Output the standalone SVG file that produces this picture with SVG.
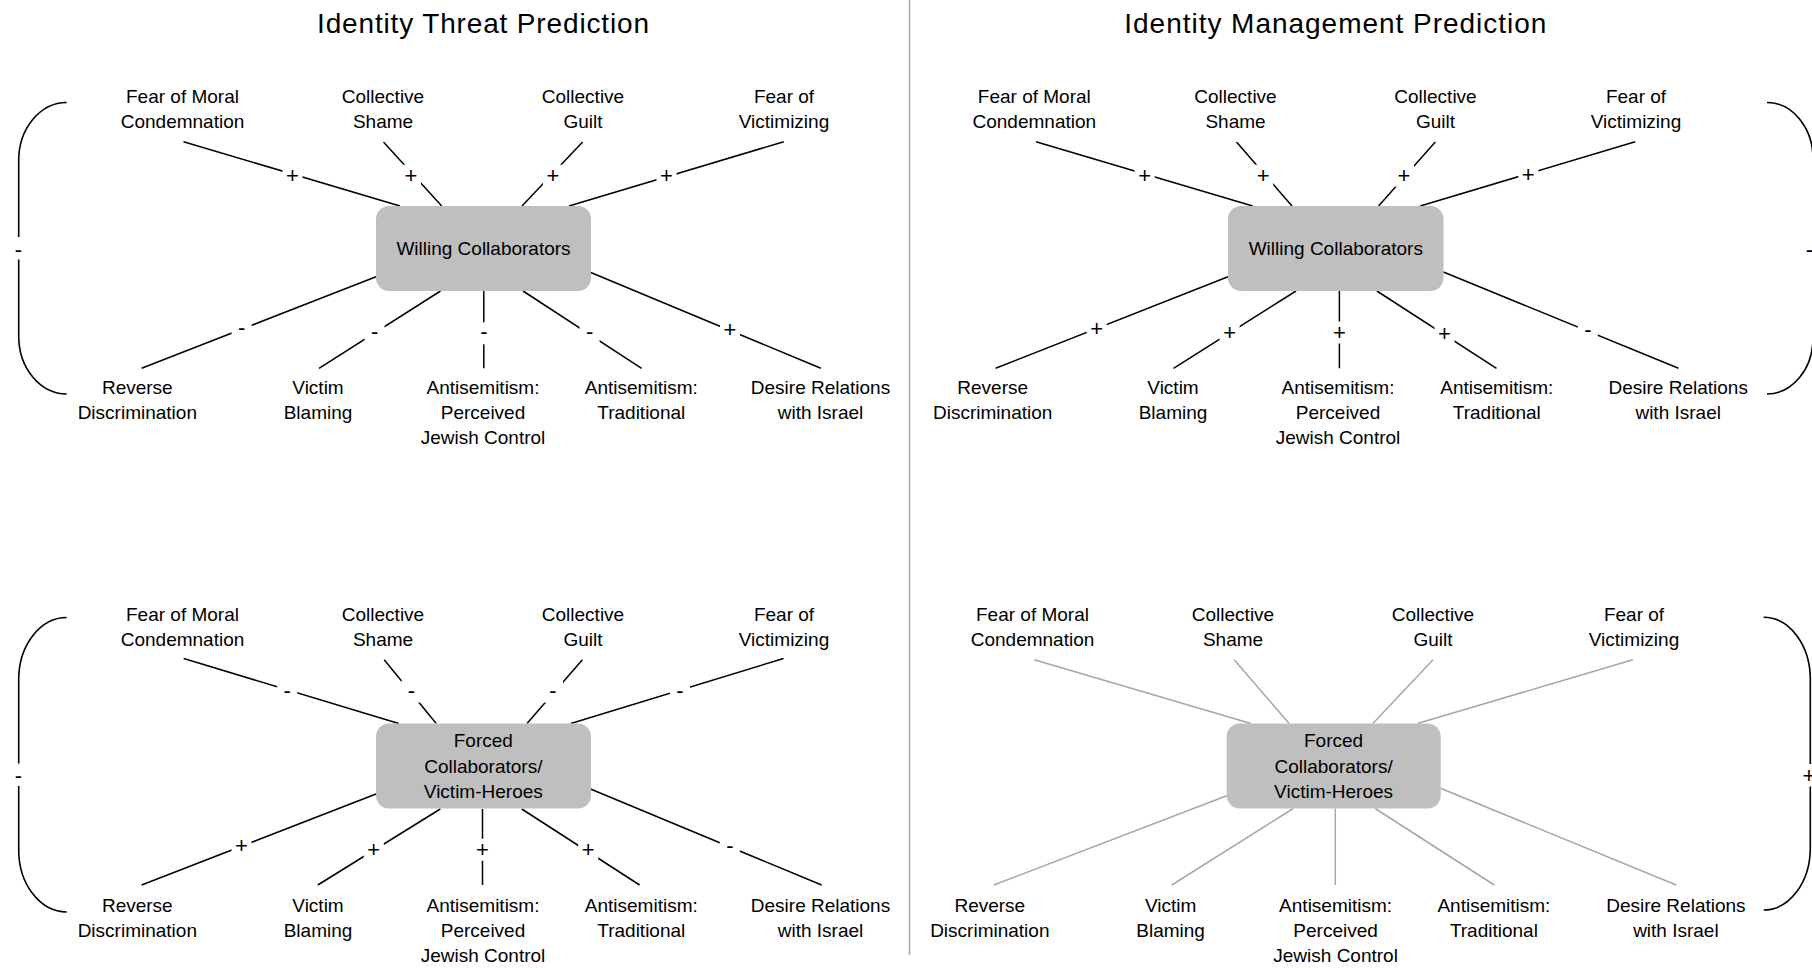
<svg xmlns="http://www.w3.org/2000/svg" width="1812" height="968" viewBox="0 0 1812 968">
<style>
text{font-family:"Liberation Sans",Arial,sans-serif;fill:#000;text-anchor:middle}
.lbl{font-size:19px}
.title{font-size:28px}
.sign{font-size:22px}
.box{fill:#bfbfbf}
.e{stroke:#000;stroke-width:1.5;fill:none}
.eg{stroke:#a6a6a6;stroke-width:1.5;fill:none}
.br{stroke:#000;stroke-width:1.6;fill:none}
.gap{fill:#fff}
</style>
<rect width="1812" height="968" fill="#fff"/>
<line x1="909.5" y1="0" x2="909.5" y2="955" stroke="#a6a6a6" stroke-width="1.5"/>

<!-- Titles -->
<text class="title" x="483" y="33" textLength="332" lengthAdjust="spacing">Identity Threat Prediction</text>
<text class="title" x="1335.3" y="33" textLength="422" lengthAdjust="spacing">Identity Management Prediction</text>

<!-- ===== Connectors ===== -->
<g id="connectors">
  <!-- Top-left panel -->
  <g id="tl-edges">
    <line class="e" x1="183.5" y1="141.7" x2="400" y2="206"/>
    <line class="e" x1="383.5" y1="142" x2="441.7" y2="206"/>
    <line class="e" x1="582.6" y1="142" x2="522" y2="206"/>
    <line class="e" x1="783.8" y1="141.7" x2="569" y2="206"/>
    <line class="e" x1="376" y1="276.7" x2="141.6" y2="368.3"/>
    <line class="e" x1="440.5" y1="291" x2="319" y2="368.3"/>
    <line class="e" x1="483.8" y1="291" x2="483.8" y2="368.3"/>
    <line class="e" x1="523" y1="291" x2="641.6" y2="368.3"/>
    <line class="e" x1="590.8" y1="272.5" x2="820.8" y2="368.3"/>
    <rect class="gap" x="282.5" y="164.7" width="20" height="22"/><text class="sign" x="292.5" y="183.4">+</text>
    <rect class="gap" x="401" y="164.7" width="20" height="22"/><text class="sign" x="411" y="183.4">+</text>
    <rect class="gap" x="543" y="164.7" width="20" height="22"/><text class="sign" x="553" y="183.4">+</text>
    <rect class="gap" x="656.5" y="164.7" width="20" height="22"/><text class="sign" x="666.5" y="183.4">+</text>
    <rect class="gap" x="231.6" y="318" width="20" height="22"/><text class="sign" x="241.6" y="335">-</text>
    <rect class="gap" x="364.6" y="322.3" width="20" height="22"/><text class="sign" x="374.6" y="339.3">-</text>
    <rect class="gap" x="473.8" y="322.3" width="20" height="22"/><text class="sign" x="483.8" y="339.3">-</text>
    <rect class="gap" x="579.6" y="322.3" width="20" height="22"/><text class="sign" x="589.6" y="339.3">-</text>
    <rect class="gap" x="720" y="318.5" width="20" height="22"/><text class="sign" x="730" y="337.2">+</text>
    <path class="br" d="M66.7,102.5 A48,58 0 0 0 18.7,160.5 V237 M18.7,259.5 V336 A48,58 0 0 0 66.7,394"/>
    <text class="sign" x="18.3" y="256.5">-</text>
  </g>

  <!-- Top-right panel -->
  <g id="tr-edges">
    <line class="e" x1="1036" y1="141.7" x2="1252.7" y2="206"/>
    <line class="e" x1="1236.5" y1="142" x2="1292" y2="206"/>
    <line class="e" x1="1435.3" y1="142" x2="1378.6" y2="206"/>
    <line class="e" x1="1635.2" y1="141.7" x2="1420.2" y2="206"/>
    <line class="e" x1="1228" y1="276.7" x2="995.6" y2="368.3"/>
    <line class="e" x1="1296" y1="291" x2="1173.5" y2="368.3"/>
    <line class="e" x1="1339.4" y1="291" x2="1339.4" y2="368.3"/>
    <line class="e" x1="1376.9" y1="291" x2="1496.5" y2="368.3"/>
    <line class="e" x1="1443.4" y1="272" x2="1678.5" y2="368.3"/>
    <rect class="gap" x="1134.6" y="164.7" width="20" height="22"/><text class="sign" x="1144.6" y="183.4">+</text>
    <rect class="gap" x="1253.1" y="164.7" width="20" height="22"/><text class="sign" x="1263.1" y="183.4">+</text>
    <rect class="gap" x="1394" y="164.7" width="20" height="22"/><text class="sign" x="1404" y="183.4">+</text>
    <rect class="gap" x="1518.3" y="163.5" width="20" height="22"/><text class="sign" x="1528.3" y="182.2">+</text>
    <rect class="gap" x="1086.7" y="317" width="20" height="22"/><text class="sign" x="1096.7" y="335.7">+</text>
    <rect class="gap" x="1219.6" y="321.5" width="20" height="22"/><text class="sign" x="1229.6" y="340.2">+</text>
    <rect class="gap" x="1329.4" y="321.5" width="20" height="22"/><text class="sign" x="1339.4" y="340.2">+</text>
    <rect class="gap" x="1434.5" y="322.5" width="20" height="22"/><text class="sign" x="1444.5" y="341.2">+</text>
    <rect class="gap" x="1577.8" y="319.5" width="20" height="22"/><text class="sign" x="1587.8" y="336.5">-</text>
    <path class="br" d="M1767,102.5 A46,56 0 0 1 1813,158.5 V239 M1813,261.5 V338 A46,56 0 0 1 1767,394"/>
    <text class="sign" x="1809.5" y="256.5">-</text>
  </g>

  <!-- Bottom-left panel -->
  <g id="bl-edges">
    <line class="e" x1="183.7" y1="658.5" x2="398.7" y2="723.5"/>
    <line class="e" x1="384.2" y1="659.7" x2="436.2" y2="723.5"/>
    <line class="e" x1="582.4" y1="659.7" x2="527" y2="723.5"/>
    <line class="e" x1="783.5" y1="658.5" x2="570.9" y2="723.5"/>
    <line class="e" x1="376" y1="794" x2="141.6" y2="885"/>
    <line class="e" x1="440.3" y1="809" x2="317.8" y2="885"/>
    <line class="e" x1="482.5" y1="809" x2="482.5" y2="885"/>
    <line class="e" x1="521.8" y1="809" x2="639.6" y2="885"/>
    <line class="e" x1="590.5" y1="789" x2="821.6" y2="885"/>
    <rect class="gap" x="277.2" y="680.5" width="20" height="22"/><text class="sign" x="287.2" y="698.1">-</text>
    <rect class="gap" x="401.4" y="680.5" width="20" height="22"/><text class="sign" x="411.4" y="698.1">-</text>
    <rect class="gap" x="543" y="680.5" width="20" height="22"/><text class="sign" x="553" y="698.1">-</text>
    <rect class="gap" x="670" y="680" width="20" height="22"/><text class="sign" x="680" y="697.6">-</text>
    <rect class="gap" x="231.5" y="834" width="20" height="22"/><text class="sign" x="241.5" y="852.7">+</text>
    <rect class="gap" x="363.8" y="838.7" width="20" height="22"/><text class="sign" x="373.8" y="857.4">+</text>
    <rect class="gap" x="472.5" y="838.7" width="20" height="22"/><text class="sign" x="482.5" y="857.4">+</text>
    <rect class="gap" x="578.2" y="838.7" width="20" height="22"/><text class="sign" x="588.2" y="857.4">+</text>
    <rect class="gap" x="719.8" y="835.5" width="20" height="22"/><text class="sign" x="729.8" y="852.5">-</text>
    <path class="br" d="M66.7,617.5 A48,62 0 0 0 18.7,679.5 V763.5 M18.7,786 V850 A48,62 0 0 0 66.7,912"/>
    <text class="sign" x="18.3" y="782.7">-</text>
  </g>

  <!-- Bottom-right panel -->
  <g id="br-edges">
    <line class="eg" x1="1034.3" y1="659.7" x2="1250.9" y2="723.5"/>
    <line class="eg" x1="1234.2" y1="659.7" x2="1289.1" y2="723.5"/>
    <line class="eg" x1="1433" y1="659.7" x2="1372.9" y2="723.5"/>
    <line class="eg" x1="1632.9" y1="659.7" x2="1417.4" y2="723.5"/>
    <line class="eg" x1="1226.7" y1="795.7" x2="993.8" y2="885"/>
    <line class="eg" x1="1293.1" y1="808.5" x2="1171.8" y2="885"/>
    <line class="eg" x1="1335.3" y1="808.5" x2="1335.3" y2="885"/>
    <line class="eg" x1="1375.2" y1="808.5" x2="1494.2" y2="885"/>
    <line class="eg" x1="1440.5" y1="788.3" x2="1676.2" y2="885"/>
    <path class="br" d="M1763.7,617.3 A46.6,62 0 0 1 1810.3,679.3 V764 M1810.3,786.5 V848 A46.6,62 0 0 1 1763.7,910"/>
    <text class="sign" x="1809" y="782.7">+</text>
  </g>
</g>

<!-- ===== Nodes: Top-left ===== -->
<g id="tl-center"><rect class="box" x="376" y="206" width="215" height="85" rx="13"/><text class="lbl" x="483.5" y="255">Willing Collaborators</text></g>
<g id="tl-fmc"><text class="lbl" x="182.5" y="103">Fear of Moral</text><text class="lbl" x="182.5" y="128">Condemnation</text></g>
<g id="tl-cs"><text class="lbl" x="383" y="103">Collective</text><text class="lbl" x="383" y="128">Shame</text></g>
<g id="tl-cg"><text class="lbl" x="583" y="103">Collective</text><text class="lbl" x="583" y="128">Guilt</text></g>
<g id="tl-fv"><text class="lbl" x="784" y="103">Fear of</text><text class="lbl" x="784" y="128">Victimizing</text></g>
<g id="tl-rd"><text class="lbl" x="137.3" y="394">Reverse</text><text class="lbl" x="137.3" y="419">Discrimination</text></g>
<g id="tl-vb"><text class="lbl" x="318" y="394">Victim</text><text class="lbl" x="318" y="419">Blaming</text></g>
<g id="tl-ap"><text class="lbl" x="483" y="394">Antisemitism:</text><text class="lbl" x="483" y="419">Perceived</text><text class="lbl" x="483" y="444">Jewish Control</text></g>
<g id="tl-at"><text class="lbl" x="641.3" y="394">Antisemitism:</text><text class="lbl" x="641.3" y="419">Traditional</text></g>
<g id="tl-dr"><text class="lbl" x="820.5" y="394">Desire Relations</text><text class="lbl" x="820.5" y="419">with Israel</text></g>

<!-- ===== Nodes: Top-right ===== -->
<g id="tr-center"><rect class="box" x="1228" y="206" width="215.5" height="85" rx="13"/><text class="lbl" x="1335.8" y="255">Willing Collaborators</text></g>
<g id="tr-fmc"><text class="lbl" x="1034.3" y="103">Fear of Moral</text><text class="lbl" x="1034.3" y="128">Condemnation</text></g>
<g id="tr-cs"><text class="lbl" x="1235.5" y="103">Collective</text><text class="lbl" x="1235.5" y="128">Shame</text></g>
<g id="tr-cg"><text class="lbl" x="1435.5" y="103">Collective</text><text class="lbl" x="1435.5" y="128">Guilt</text></g>
<g id="tr-fv"><text class="lbl" x="1636" y="103">Fear of</text><text class="lbl" x="1636" y="128">Victimizing</text></g>
<g id="tr-rd"><text class="lbl" x="992.7" y="394">Reverse</text><text class="lbl" x="992.7" y="419">Discrimination</text></g>
<g id="tr-vb"><text class="lbl" x="1173" y="394">Victim</text><text class="lbl" x="1173" y="419">Blaming</text></g>
<g id="tr-ap"><text class="lbl" x="1338" y="394">Antisemitism:</text><text class="lbl" x="1338" y="419">Perceived</text><text class="lbl" x="1338" y="444">Jewish Control</text></g>
<g id="tr-at"><text class="lbl" x="1496.8" y="394">Antisemitism:</text><text class="lbl" x="1496.8" y="419">Traditional</text></g>
<g id="tr-dr"><text class="lbl" x="1678.2" y="394">Desire Relations</text><text class="lbl" x="1678.2" y="419">with Israel</text></g>

<!-- ===== Nodes: Bottom-left ===== -->
<g id="bl-center"><rect class="box" x="376" y="723.5" width="215" height="85" rx="13"/><text class="lbl" x="483.3" y="747">Forced</text><text class="lbl" x="483.3" y="772.5">Collaborators/</text><text class="lbl" x="483.3" y="798">Victim-Heroes</text></g>
<g id="bl-fmc"><text class="lbl" x="182.5" y="621">Fear of Moral</text><text class="lbl" x="182.5" y="646">Condemnation</text></g>
<g id="bl-cs"><text class="lbl" x="383" y="621">Collective</text><text class="lbl" x="383" y="646">Shame</text></g>
<g id="bl-cg"><text class="lbl" x="583" y="621">Collective</text><text class="lbl" x="583" y="646">Guilt</text></g>
<g id="bl-fv"><text class="lbl" x="784" y="621">Fear of</text><text class="lbl" x="784" y="646">Victimizing</text></g>
<g id="bl-rd"><text class="lbl" x="137.3" y="912">Reverse</text><text class="lbl" x="137.3" y="937">Discrimination</text></g>
<g id="bl-vb"><text class="lbl" x="318" y="912">Victim</text><text class="lbl" x="318" y="937">Blaming</text></g>
<g id="bl-ap"><text class="lbl" x="483" y="912">Antisemitism:</text><text class="lbl" x="483" y="937">Perceived</text><text class="lbl" x="483" y="962">Jewish Control</text></g>
<g id="bl-at"><text class="lbl" x="641.3" y="912">Antisemitism:</text><text class="lbl" x="641.3" y="937">Traditional</text></g>
<g id="bl-dr"><text class="lbl" x="820.5" y="912">Desire Relations</text><text class="lbl" x="820.5" y="937">with Israel</text></g>

<!-- ===== Nodes: Bottom-right ===== -->
<g id="br-center"><rect class="box" x="1226.7" y="723.5" width="214" height="85" rx="13"/><text class="lbl" x="1333.6" y="747">Forced</text><text class="lbl" x="1333.6" y="772.5">Collaborators/</text><text class="lbl" x="1333.6" y="798">Victim-Heroes</text></g>
<g id="br-fmc"><text class="lbl" x="1032.5" y="621">Fear of Moral</text><text class="lbl" x="1032.5" y="646">Condemnation</text></g>
<g id="br-cs"><text class="lbl" x="1233" y="621">Collective</text><text class="lbl" x="1233" y="646">Shame</text></g>
<g id="br-cg"><text class="lbl" x="1433" y="621">Collective</text><text class="lbl" x="1433" y="646">Guilt</text></g>
<g id="br-fv"><text class="lbl" x="1634" y="621">Fear of</text><text class="lbl" x="1634" y="646">Victimizing</text></g>
<g id="br-rd"><text class="lbl" x="989.8" y="912">Reverse</text><text class="lbl" x="989.8" y="937">Discrimination</text></g>
<g id="br-vb"><text class="lbl" x="1170.6" y="912">Victim</text><text class="lbl" x="1170.6" y="937">Blaming</text></g>
<g id="br-ap"><text class="lbl" x="1335.6" y="912">Antisemitism:</text><text class="lbl" x="1335.6" y="937">Perceived</text><text class="lbl" x="1335.6" y="962">Jewish Control</text></g>
<g id="br-at"><text class="lbl" x="1493.9" y="912">Antisemitism:</text><text class="lbl" x="1493.9" y="937">Traditional</text></g>
<g id="br-dr"><text class="lbl" x="1675.9" y="912">Desire Relations</text><text class="lbl" x="1675.9" y="937">with Israel</text></g>
</svg>
